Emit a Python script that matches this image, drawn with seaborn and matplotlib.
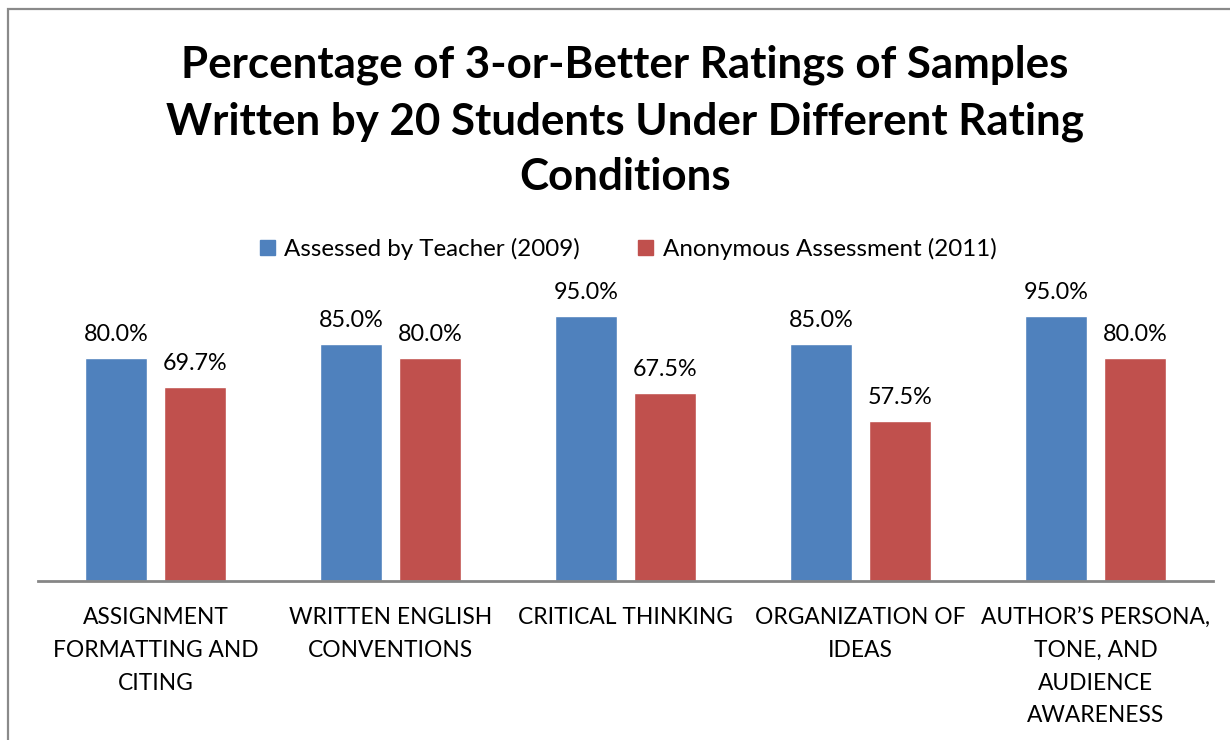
import matplotlib
matplotlib.use("Agg")
import matplotlib.pyplot as plt
import matplotlib.patches as mpatches
import seaborn as sns
import pandas as pd

categories = [
    "ASSIGNMENT\nFORMATTING AND\nCITING",
    "WRITTEN ENGLISH\nCONVENTIONS",
    "CRITICAL THINKING",
    "ORGANIZATION OF\nIDEAS",
    "AUTHOR\u2019S PERSONA,\nTONE, AND\nAUDIENCE\nAWARENESS",
]
series_names = ["Assessed by Teacher (2009)", "Anonymous Assessment (2011)"]
teacher_2009 = [80.0, 85.0, 95.0, 85.0, 95.0]
anonymous_2011 = [69.7, 80.0, 67.5, 57.5, 80.0]
colors = ["#4F81BD", "#C0504D"]

rows = []
for cat, a, b in zip(categories, teacher_2009, anonymous_2011):
    rows.append({"category": cat, "series": series_names[0], "value": a})
    rows.append({"category": cat, "series": series_names[1], "value": b})
df = pd.DataFrame(rows)

sns.set_theme(style="white")
plt.rcParams["font.family"] = ["Lato", "DejaVu Sans"]
plt.rcParams["text.color"] = "black"

fig = plt.figure(figsize=(12.3, 7.4), dpi=100)
ax = fig.add_axes([38 / 1230, 1 - 581 / 740, (1213 - 38) / 1230, (581 - 302) / 740])

sns.barplot(data=df, x="category", y="value", hue="series", palette=colors,
            width=0.672, gap=0.214, ax=ax, legend=False, saturation=1,
            errorbar=None)

ax.set_ylim(0, 100)
ax.set_xlim(-0.5, 4.5)
ax.set_xlabel("")
ax.set_ylabel("")
ax.set_yticks([])
for side in ["top", "right", "left"]:
    ax.spines[side].set_visible(False)
ax.spines["bottom"].set_color("#868686")
ax.spines["bottom"].set_linewidth(2)
ax.tick_params(axis="x", length=0, pad=19, labelsize=16.4, colors="black")
for lbl in ax.get_xticklabels():
    lbl.set_linespacing(1.68)
    lbl.set_verticalalignment("top")

for container in ax.containers:
    ax.bar_label(container, labels=[f"{v:.1f}%" for v in container.datavalues],
                 padding=9, fontsize=16.8, color="black")

# legend
handles = [mpatches.Patch(color=c, label=n) for c, n in zip(colors, series_names)]
leg = fig.legend(handles=handles, loc="center", bbox_to_anchor=(628 / 1230, 1 - 249 / 740),
                 ncol=2, frameon=False, fontsize=17.4, handlelength=0.62, handleheight=0.62,
                 handletextpad=0.4, columnspacing=2.4)
for t in leg.get_texts():
    t.set_color("black")

fig.text(625 / 1230, 1 - 121 / 740,
         "Percentage of 3-or-Better Ratings of Samples\nWritten by 20 Students Under Different Rating\nConditions",
         ha="center", va="center", fontsize=31.6, fontweight="bold", linespacing=1.48,
         color="black")

# chart frame
fig.add_artist(mpatches.Rectangle((8 / 1230, -0.1), 1.2, 1.1 - 9 / 740,
                                  transform=fig.transFigure, fill=False,
                                  edgecolor="#8a8a8a", linewidth=1.6))

fig.savefig("out.png", dpi=100)
